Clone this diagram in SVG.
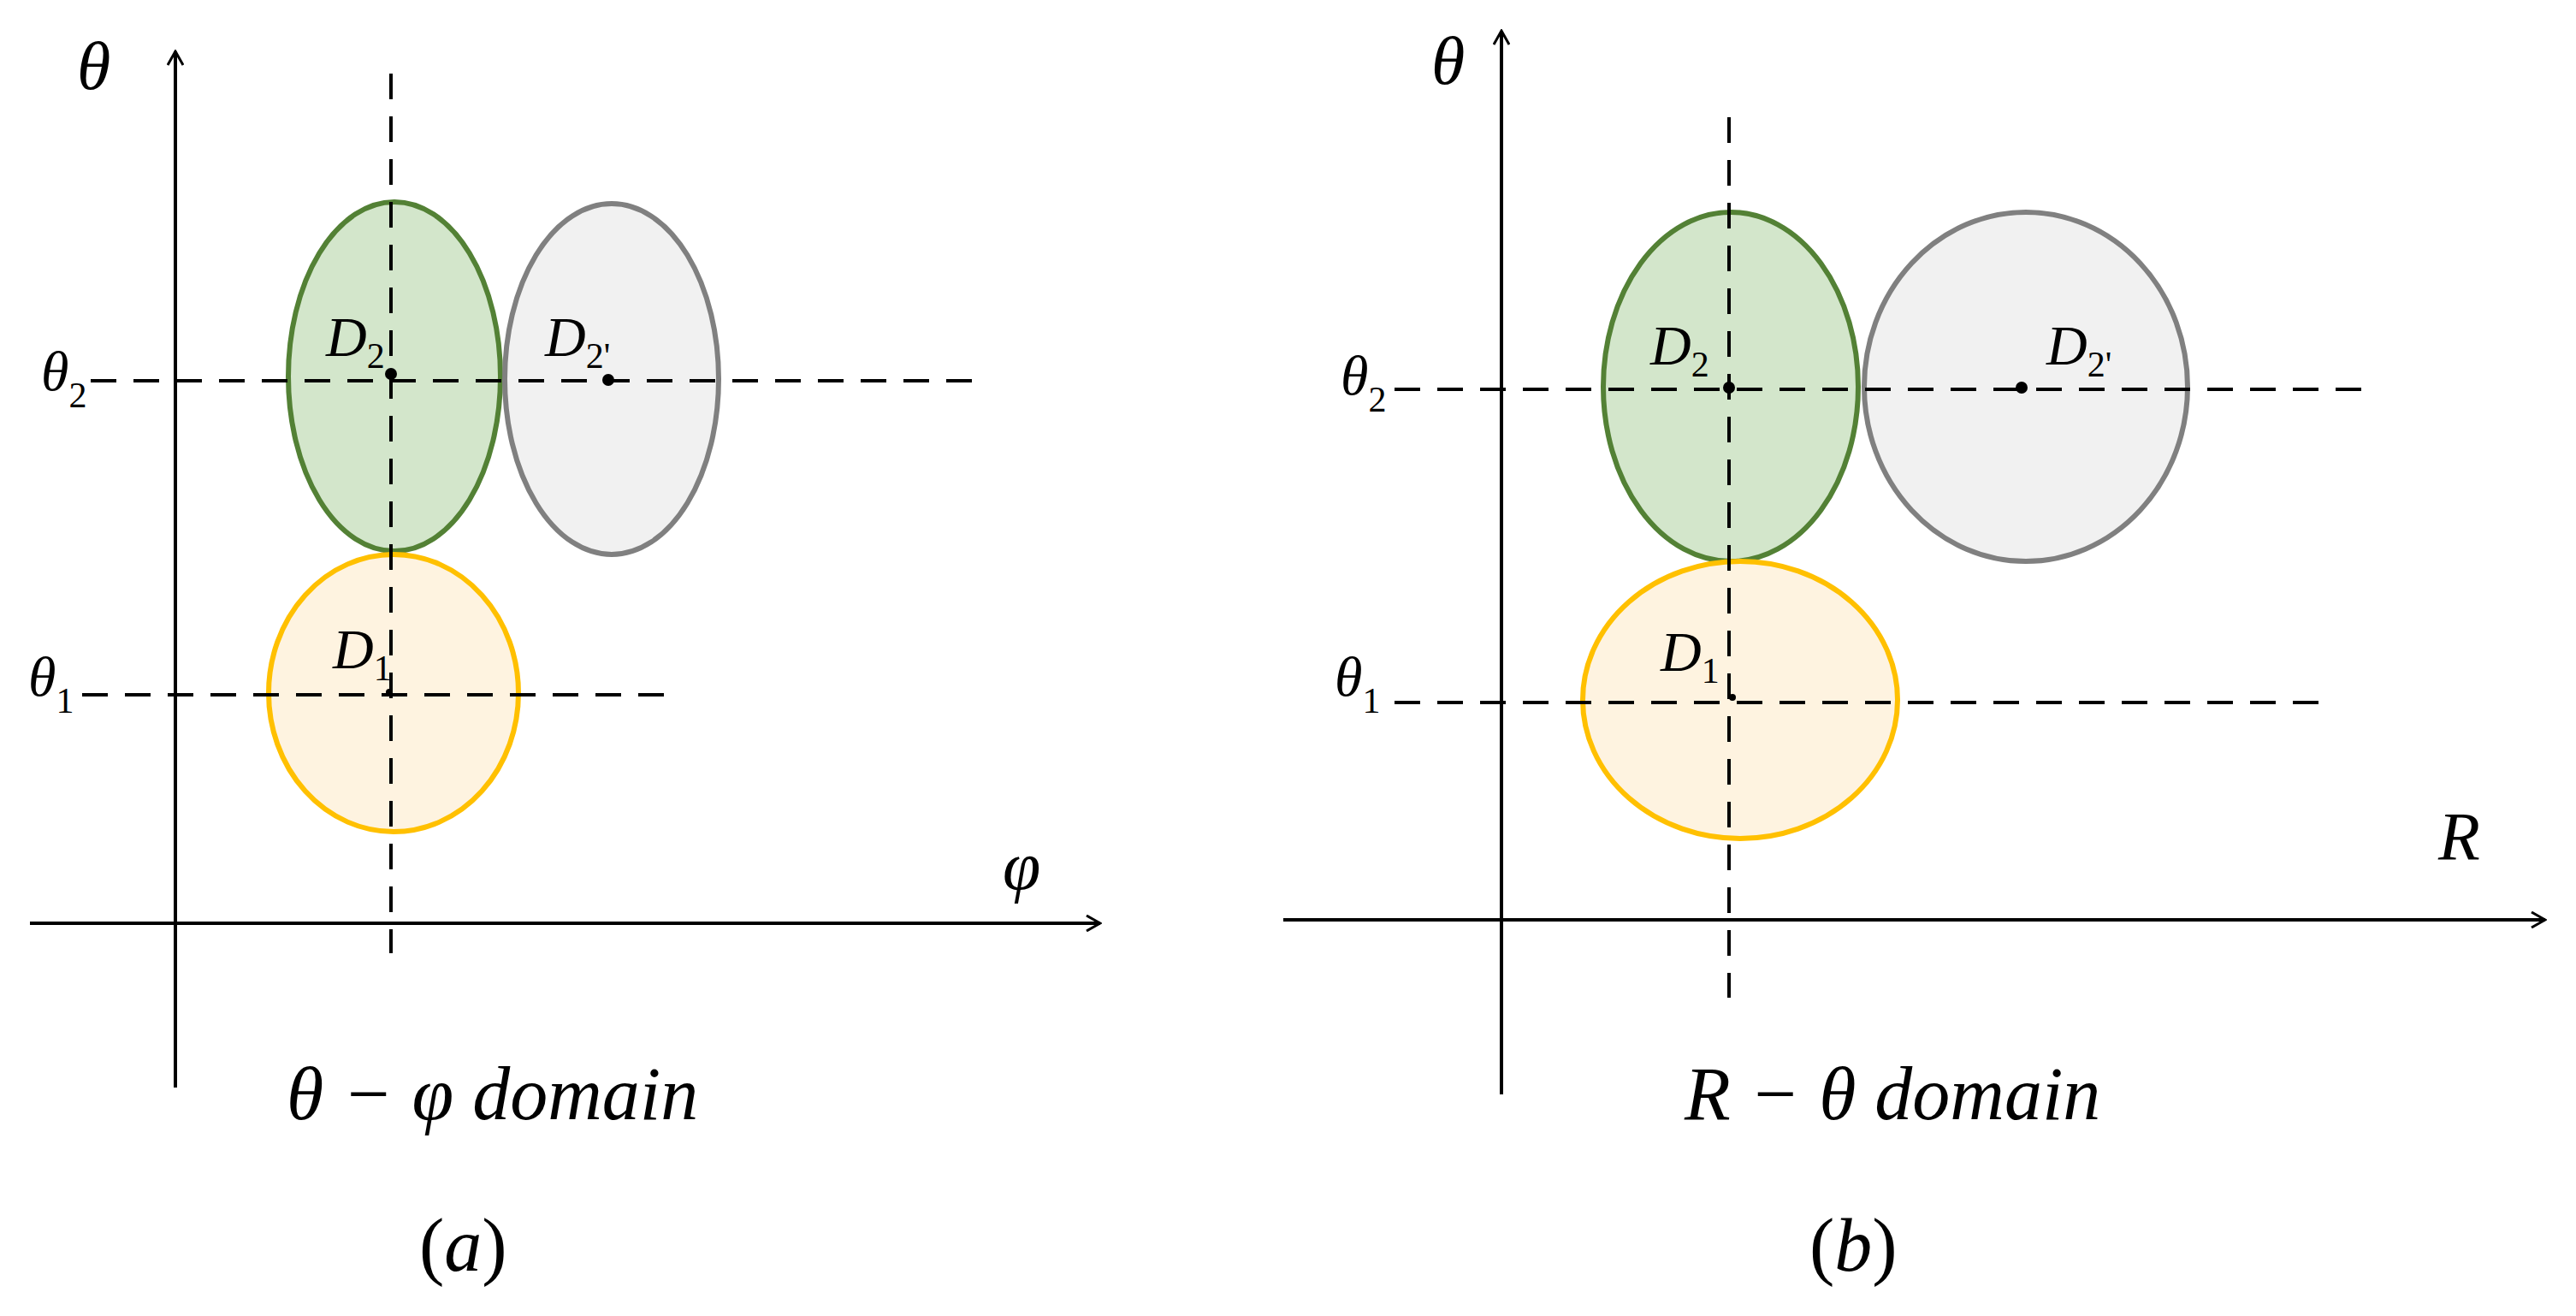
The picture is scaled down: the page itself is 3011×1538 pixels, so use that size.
<svg xmlns="http://www.w3.org/2000/svg" width="3011" height="1538" viewBox="0 0 3011 1538">
<defs>
<style>
.ax{stroke:#000;stroke-width:4;fill:none}
.ds{stroke:#000;stroke-width:4;stroke-dasharray:30 20;fill:none}
.g{fill:#d3e6cb;stroke:#538135;stroke-width:6}
.y{fill:#fef3e0;stroke:#ffc000;stroke-width:6}
.gr{fill:#f1f1f1;stroke:#808080;stroke-width:6}
text{font-family:"Liberation Serif","Times New Roman",serif;font-style:italic;fill:#000}
.lb{font-size:66px}
.sb{font-size:42px;font-style:normal}
.big{font-size:80px}
.dom{font-size:88px}
</style>
<marker id="ar" viewBox="0 0 20 20" refX="18" refY="10" markerWidth="20" markerHeight="20" markerUnits="userSpaceOnUse" orient="auto"><path d="M2 1 L18 10 L2 19" fill="none" stroke="#000" stroke-width="3"/></marker>
</defs>
<rect width="3011" height="1538" fill="#fff"/>
<g id="nodes-a">
<g id="a-green"><ellipse class="g" cx="461" cy="440" rx="124" ry="204"/></g>
<g id="a-gray"><ellipse class="gr" cx="715" cy="443" rx="125" ry="205"/></g>
<g id="a-yellow"><ellipse class="y" cx="460" cy="810" rx="146" ry="162"/></g>
</g>
<g id="nodes-b">
<g id="b-green"><ellipse class="g" cx="2023" cy="452" rx="149" ry="204"/></g>
<g id="b-gray"><ellipse class="gr" cx="2368" cy="452" rx="189" ry="204"/></g>
<g id="b-yellow"><ellipse class="y" cx="2034" cy="818" rx="184" ry="162"/></g>
</g>
<g id="connectors">
<line class="ax" x1="205" y1="1271" x2="205" y2="60" marker-end="url(#ar)"/>
<line class="ax" x1="35" y1="1079" x2="1286" y2="1079" marker-end="url(#ar)"/>
<line class="ds" x1="457" y1="86" x2="457" y2="1114"/>
<line class="ds" x1="106" y1="445" x2="1142" y2="445"/>
<line class="ds" x1="96" y1="812" x2="778" y2="812"/>
<line class="ax" x1="1755" y1="1279" x2="1755" y2="36" marker-end="url(#ar)"/>
<line class="ax" x1="1500" y1="1075" x2="2975" y2="1075" marker-end="url(#ar)"/>
<line class="ds" x1="2021" y1="137" x2="2021" y2="1166"/>
<line class="ds" x1="1630" y1="455" x2="2768" y2="455"/>
<line class="ds" x1="1630" y1="821" x2="2710" y2="821"/>
</g>
<g id="dots">
<circle cx="457" cy="437" r="7"/><circle cx="711" cy="444" r="7"/><circle cx="455" cy="809" r="4"/>
<circle cx="2021" cy="453" r="7"/><circle cx="2363" cy="453" r="7"/><circle cx="2025" cy="815" r="4"/>
</g>
<g id="labels">
<text class="big" x="90" y="104">θ</text>
<text class="lb" x="48" y="456">θ<tspan class="sb" dy="20">2</tspan></text>
<text class="lb" x="33" y="813">θ<tspan class="sb" dy="20">1</tspan></text>
<text class="lb" x="381" y="416">D<tspan class="sb" dy="14">2</tspan></text>
<text class="lb" x="637" y="416">D<tspan class="sb" dy="14">2'</tspan></text>
<text class="lb" x="389" y="781">D<tspan class="sb" dy="14">1</tspan></text>
<text class="big" x="1172" y="1039">φ</text>
<text class="dom" x="335" y="1308">θ − φ  domain</text>
<text class="dom" x="490" y="1485" style="font-style:normal">(<tspan style="font-style:italic">a</tspan>)</text>
<text class="big" x="1673" y="98">θ</text>
<text class="lb" x="1567" y="461">θ<tspan class="sb" dy="20">2</tspan></text>
<text class="lb" x="1560" y="813">θ<tspan class="sb" dy="20">1</tspan></text>
<text class="lb" x="1929" y="426">D<tspan class="sb" dy="14">2</tspan></text>
<text class="lb" x="2392" y="426">D<tspan class="sb" dy="14">2'</tspan></text>
<text class="lb" x="1941" y="784">D<tspan class="sb" dy="14">1</tspan></text>
<text class="big" x="2850" y="1005">R</text>
<text class="dom" x="1969" y="1308">R − θ  domain</text>
<text class="dom" x="2115" y="1485" style="font-style:normal">(<tspan style="font-style:italic">b</tspan>)</text>
</g>
</svg>
